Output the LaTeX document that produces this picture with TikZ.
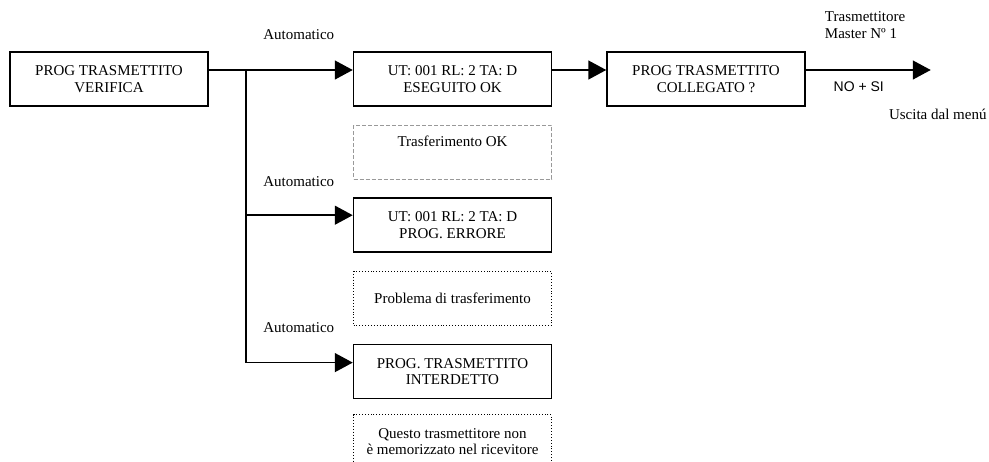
\documentclass[tikz,border=0pt]{standalone}
\usepackage{fontspec}
\setmainfont{Liberation Serif}
\newfontfamily\menusans{Liberation Sans}
\usetikzlibrary{arrows.meta,positioning}
\newcommand\menufont{\fontsize{15}{16.5}\selectfont}
\tikzset{
  menubox/.style={draw,line width=1.5pt,minimum width=198pt,minimum height=54pt,
    inner sep=0pt,align=center,font=\menufont},
  notebox/.style={menubox,line width=0.9pt,dash pattern=on 0.9pt off 2pt},
  greybox/.style={menubox,line width=0.7pt,draw=black!40,dash pattern=on 4pt off 2pt},
  flow/.style={-{Triangle[length=18pt,width=19pt]},line width=1.5pt},
  lbl/.style={inner sep=0pt,align=center,font=\menufont},
}
\begin{document}
\begin{tikzpicture}[node distance=18pt and 144pt]
  \useasboundingbox (0,0) rectangle (989pt,-461pt);
  \node[menubox] (verifica) at (109pt,-79pt) {PROG TRASMETTITO\\VERIFICA};
  \node[menubox,right=of verifica] (eseguito) {UT: 001 RL: 2 TA: D\\ESEGUITO OK};
  \node[menubox,right=54pt of eseguito] (collegato) {PROG TRASMETTITO\\COLLEGATO ?};
  \node[greybox,below=of eseguito] (trasfok) {Trasferimento OK\\\strut};
  \node[menubox,below=of trasfok] (errore) {UT: 001 RL: 2 TA: D\\PROG. ERRORE};
  \node[notebox,below=of errore] (problema) {Problema di trasferimento};
  \node[menubox,below=of problema] (interdetto) {PROG. TRASMETTITO\\INTERDETTO};
  \node[notebox,below=15pt of interdetto] (questo) {Questo trasmettitore non\\è memorizzato nel ricevitore};
  % branch point and menu exit
  \coordinate (split) at ([shift={(37pt,9pt)}]verifica.east);
  \coordinate (exit) at ([shift={(125pt,9pt)}]collegato.east);
  \draw[flow] ([yshift=9pt]verifica.east) -- ([yshift=9pt]eseguito.west);
  \draw[flow] (split) |- ([yshift=10pt]errore.west);
  \draw[flow] (split) |- ([yshift=9pt]interdetto.west);
  \draw[flow] ([yshift=9pt]eseguito.east) -- ([yshift=9pt]collegato.west);
  \draw[flow] ([yshift=9pt]collegato.east) -- (exit);
  \foreach \b/\n in {eseguito/auto1,errore/auto2,interdetto/auto3}
    \node[lbl] (\n) at ([shift={(-54pt,44pt)}]\b.west) {Automatico};
  \node[lbl,anchor=west,align=left] (master) at ([shift={(19pt,54pt)}]collegato.east) {Trasmettitore\\Master Nº 1};
  \node[lbl,font=\menusans\fontsize{14}{16}\selectfont] (nosi) at ([shift={(53pt,-8pt)}]collegato.east) {NO + SI};
  \node[lbl] (uscita) at ([shift={(132pt,-35pt)}]collegato.east) {Uscita dal menú};
\end{tikzpicture}
\end{document}
